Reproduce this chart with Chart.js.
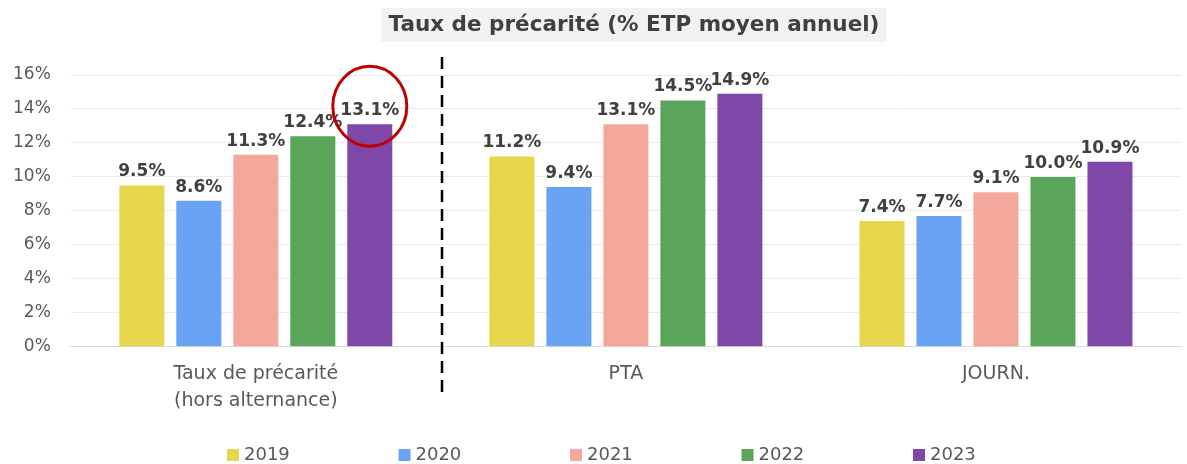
<!DOCTYPE html>
<html><head><meta charset="utf-8">
<script src="https://cdn.jsdelivr.net/npm/chart.js@4/dist/chart.umd.min.js"></script>
<style>html,body{margin:0;padding:0;background:#fff}#wrap{width:1187px;height:464px;position:relative}</style>
</head><body><div id="wrap"><canvas id="c" width="1187" height="464"></canvas></div>
<script>
const categories = [["Taux de précarité","(hors alternance)"], "PTA", "JOURN."];
const years = ["2019","2020","2021","2022","2023"];
const v2019 = [9.5, 11.2, 7.4];
const v2020 = [8.6, 9.4, 7.7];
const v2021 = [11.3, 13.1, 9.1];
const v2022 = [12.4, 14.5, 10.0];
const v2023 = [13.1, 14.9, 10.9];
const yTicks = [0,2,4,6,8,10,12,14,16];
const colors = ["#E5D64B","#69A3F3","#F3A89B","#5BA55A","#7E47A8"];
const titleText = "Taux de précarité (% ETP moyen annuel)";
const FONT = "'DejaVu Sans', sans-serif";

const series = [v2019, v2020, v2021, v2022, v2023];

const decor = {
  id: 'decor',
  beforeDraw(chart) {
    const ctx = chart.ctx;
    ctx.save();
    ctx.font = "bold 21.5px " + FONT;
    const w = ctx.measureText(titleText).width;
    const cx = 634;
    ctx.fillStyle = "#F2F2F2";
    ctx.fillRect(cx - w/2 - 7, 8, w + 14, 34);
    ctx.fillStyle = "#404040";
    ctx.textAlign = "center"; ctx.textBaseline = "middle";
    ctx.fillText(titleText, cx, 25);
    ctx.restore();
  },
  afterDatasetsDraw(chart) {
    const ctx = chart.ctx;
    ctx.save();
    ctx.font = "bold 17px " + FONT;
    ctx.fillStyle = "#404040";
    ctx.textAlign = "center"; ctx.textBaseline = "bottom";
    chart.data.datasets.forEach((ds, i) => {
      chart.getDatasetMeta(i).data.forEach((el, j) => {
        ctx.fillText(ds.data[j].toFixed(1) + "%", el.x, el.y - 5);
      });
    });
    // dashed separator between first and second category
    const xs = chart.scales.x;
    const sep = Math.round((xs.getPixelForValue(0) + xs.getPixelForValue(1)) / 2) + 1;
    ctx.strokeStyle = "#000"; ctx.lineWidth = 2.5; ctx.setLineDash([12, 7]);
    ctx.beginPath(); ctx.moveTo(sep, 57); ctx.lineTo(sep, 393); ctx.stroke();
    ctx.setLineDash([]);
    // red circle around highlighted label
    const el = chart.getDatasetMeta(4).data[0];
    ctx.strokeStyle = "#C00000"; ctx.lineWidth = 3;
    ctx.beginPath(); ctx.ellipse(el.x, el.y - 18, 37, 40, 0, 0, Math.PI*2); ctx.stroke();
    // legend
    ctx.font = "18px " + FONT; ctx.textAlign = "left"; ctx.textBaseline = "middle";
    years.forEach((y, i) => {
      const bx = 227 + i * 171.5;
      ctx.fillStyle = colors[i];
      ctx.fillRect(bx, 449, 12, 12);
      ctx.fillStyle = "#595959";
      ctx.fillText(y, bx + 17, 455);
    });
    ctx.restore();
  }
};

new Chart(document.getElementById('c'), {
  type: 'bar',
  data: {
    labels: categories,
    datasets: years.map((y, i) => ({
      label: y, data: series[i], backgroundColor: colors[i],
      categoryPercentage: 0.77, barPercentage: 0.79
    }))
  },
  options: {
    responsive: false, animation: false,
    layout: { padding: { left: -7, right: 6, top: 75, bottom: 44 } },
    plugins: {
      title: { display: false },
      legend: { display: false },
      tooltip: { enabled: false }
    },
    scales: {
      x: { grid: { display: false }, border: { color: "#D9D9D9" },
        ticks: { color: "#595959", font: { family: FONT, size: 19, lineHeight: 1.4 }, padding: 6 } },
      y: { min: 0, max: 16, afterBuildTicks: (s) => { s.ticks = yTicks.map(v => ({ value: v })); },
        grid: { color: "#EBEBEB", drawTicks: false }, border: { display: false },
        ticks: { color: "#595959", font: { family: FONT, size: 17 }, padding: 20, callback: v => v + "%" } }
    }
  },
  plugins: [decor]
});
</script></body></html>
